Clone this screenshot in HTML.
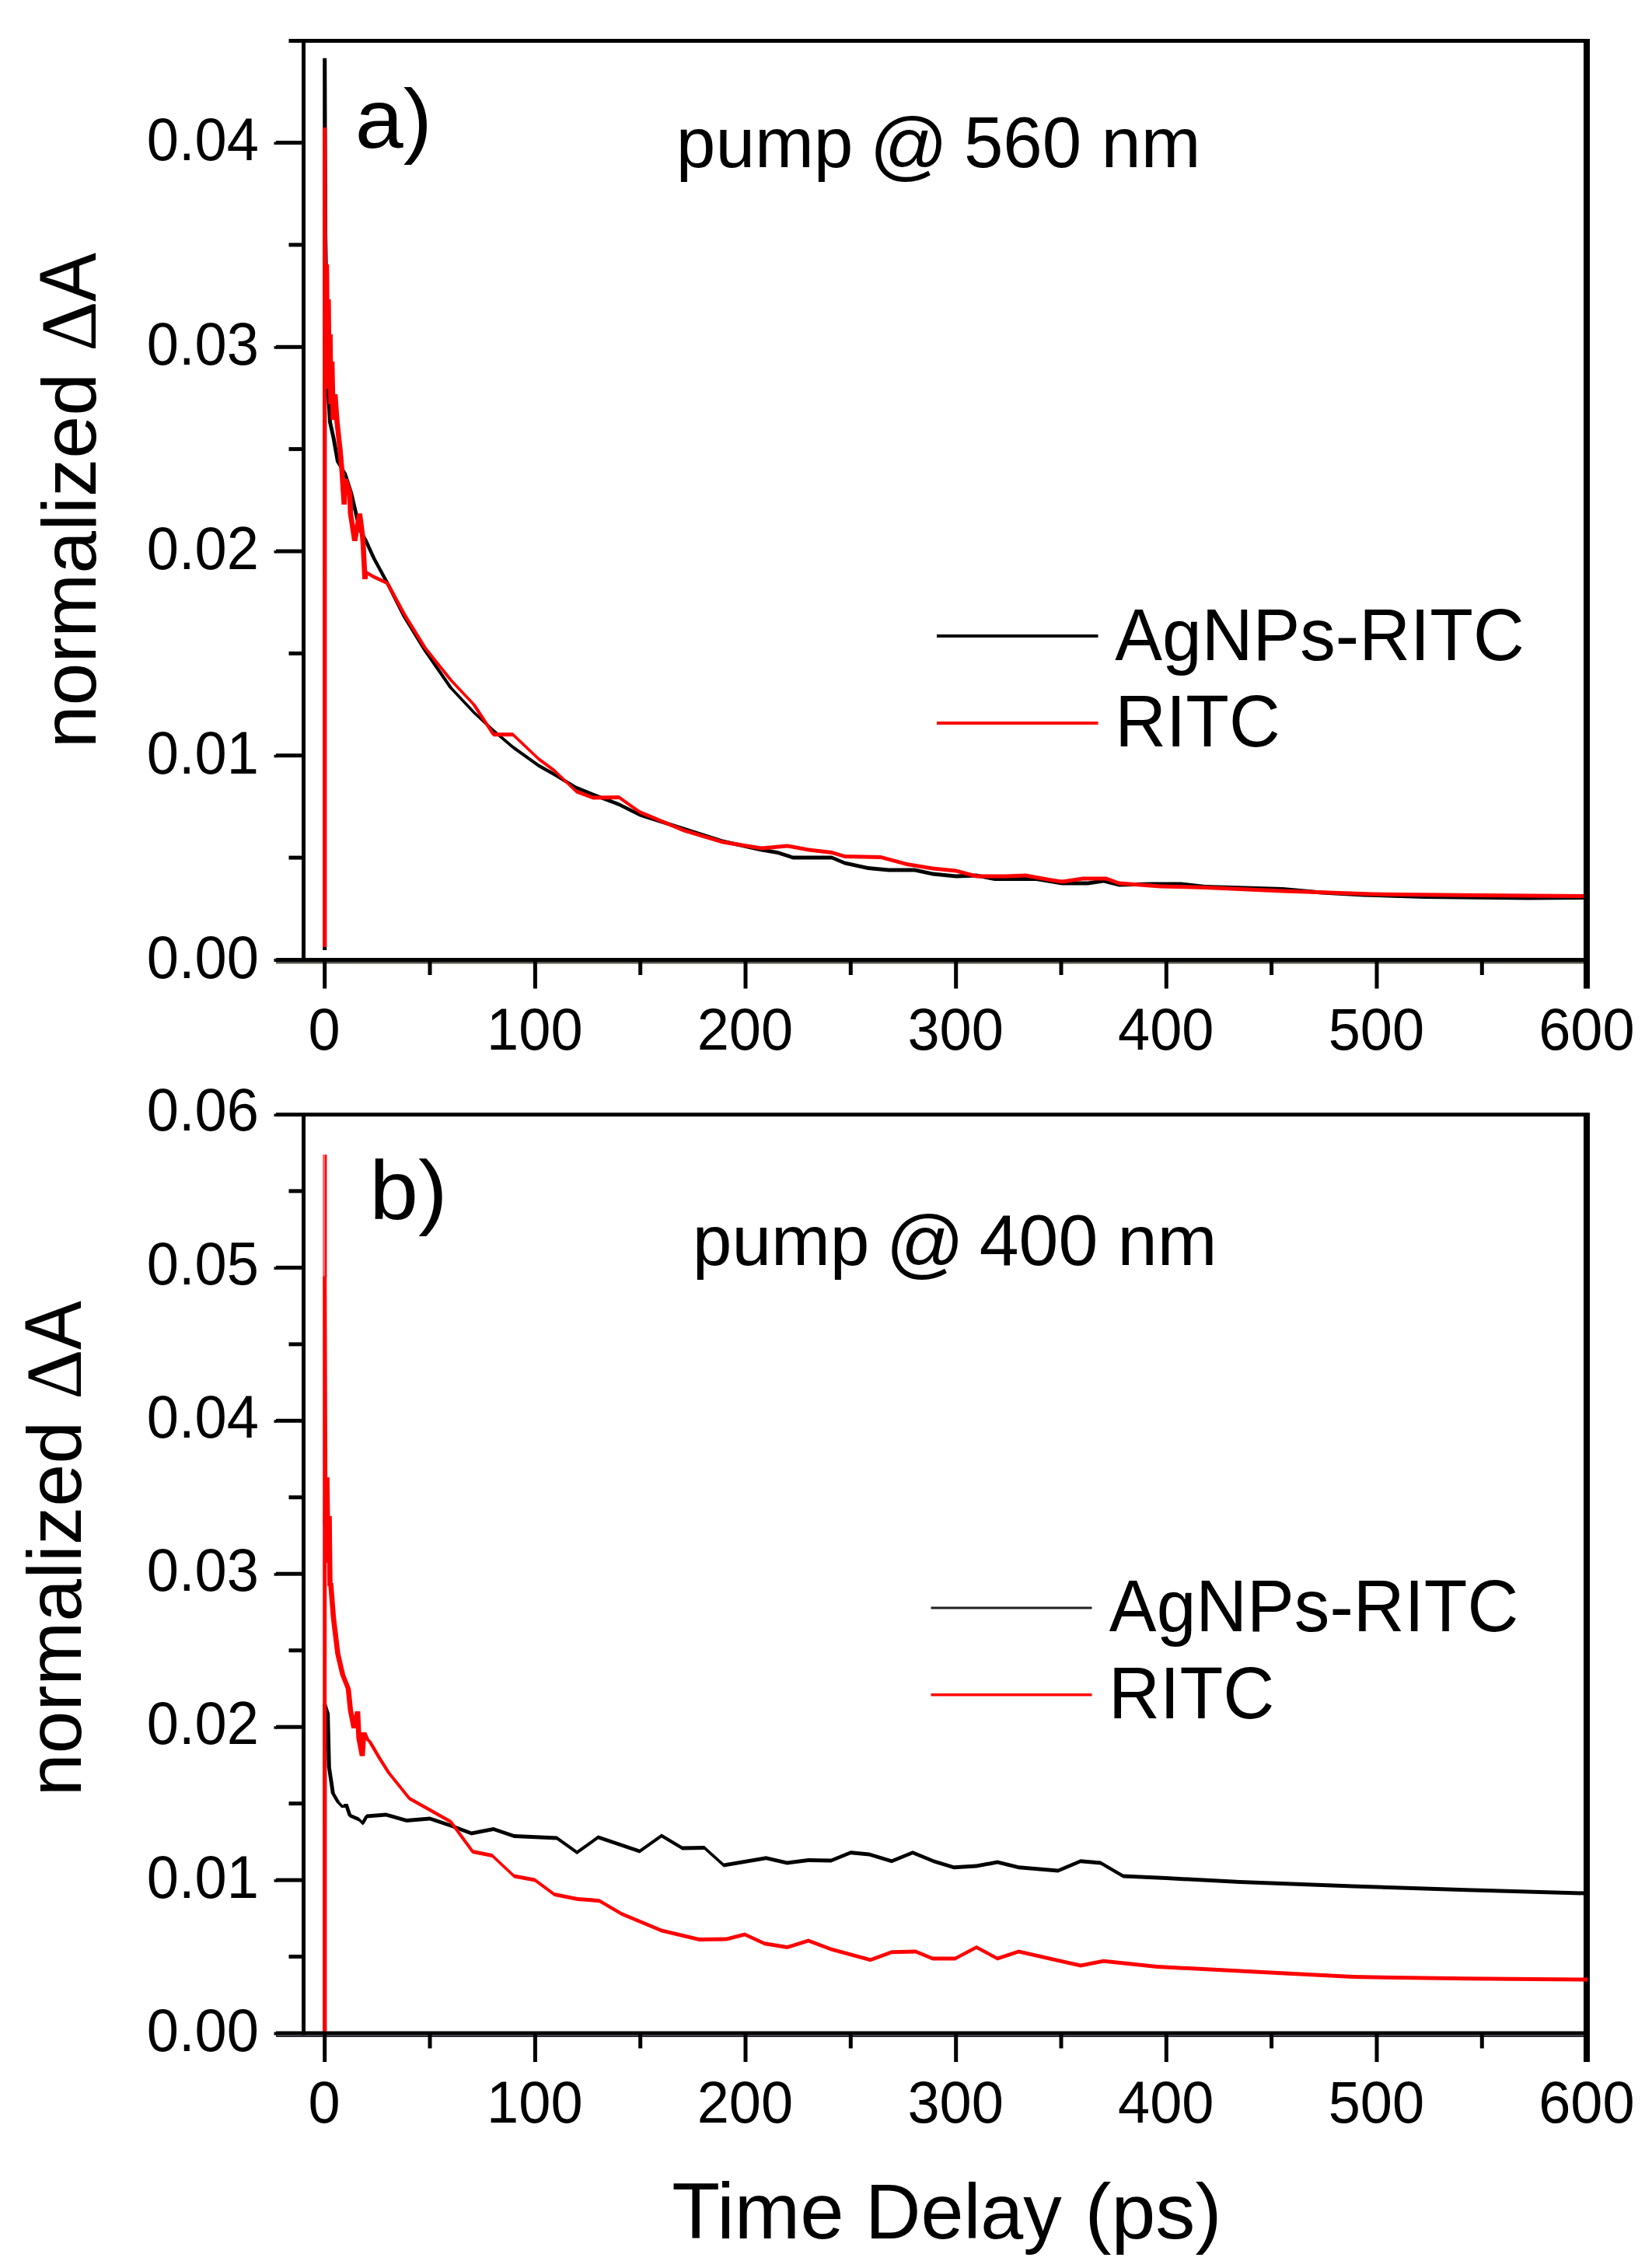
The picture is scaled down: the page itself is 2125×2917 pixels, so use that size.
<!DOCTYPE html>
<html lang="en"><head><meta charset="utf-8"><title>Transient absorption kinetics</title>
<style>
html,body{margin:0;padding:0;background:#fff;}
body{width:2125px;height:2917px;overflow:hidden;}
svg{display:block;}
text{font-family:'Liberation Sans', Arial, Helvetica, sans-serif;fill:#000;}
.tk{font-size:74px;}
.sf{font-family:'Liberation Serif','Times New Roman',serif;}
.lg{font-size:90px;}
.ax{font-size:97px;}
.pl{font-size:107px;}
</style></head><body>
<svg width="2125" height="2917" viewBox="0 0 2125 2917">
<rect x="0" y="0" width="2125" height="2917" fill="#ffffff"/>
<path d="M415.2 74.7L420.2 74.7L420.2 1222.0L415.2 1222.0ZM415.2 74.7L420.2 74.7L421.0 300.0L416.0 300.0ZM416.0 300.0L421.0 300.0L424.3 492.6L419.3 492.6ZM419.3 492.6L424.3 492.6L427.0 543.0L422.0 543.0ZM422.0 543.0L427.0 543.0L431.5 563.0L426.5 563.0ZM426.5 563.0L431.5 563.0L437.0 594.0L432.0 594.0ZM432.0 594.0L437.0 594.0L446.1 608.8L441.1 608.8ZM441.1 608.8L446.1 608.8L454.2 634.0L449.2 634.0ZM449.2 634.0L454.2 634.0L461.5 665.0L456.5 665.0ZM456.5 665.0L461.5 665.0L465.1 681.0L460.1 681.0ZM460.1 681.0L465.1 681.0L472.5 694.0L467.5 694.0ZM467.5 694.0L472.5 694.0L483.3 717.8L478.3 717.8ZM478.3 717.8L483.3 717.8L500.8 750.0L495.8 750.0ZM495.8 750.0L500.8 750.0L522.5 793.0L517.5 793.0ZM517.5 793.0L522.5 793.0L549.1 836.5L544.1 836.5ZM544.1 836.5L549.1 836.5L582.5 884.8L577.5 884.8ZM577.5 884.8L582.5 884.8L612.3 916.4L607.3 916.4ZM609.8 913.9L634.8 937.2L634.8 942.2L609.8 918.9ZM634.8 937.2L659.8 958.5L659.8 963.5L634.8 942.2ZM659.8 958.5L693.0 982.2L693.0 987.2L659.8 963.5ZM693.0 982.2L713.0 993.5L713.0 998.5L693.0 987.2ZM713.0 993.5L741.0 1010.5L741.0 1015.5L713.0 998.5ZM741.0 1010.5L763.0 1019.5L763.0 1024.5L741.0 1015.5ZM763.0 1019.5L796.0 1032.1L796.0 1037.1L763.0 1024.5ZM796.0 1032.1L823.0 1045.5L823.0 1050.5L796.0 1037.1ZM823.0 1045.5L879.5 1063.5L879.5 1068.5L823.0 1050.5ZM879.5 1063.5L929.5 1079.5L929.5 1084.5L879.5 1068.5ZM929.5 1079.5L979.4 1090.5L979.4 1095.5L929.5 1084.5ZM979.4 1090.5L1000.0 1094.0L1000.0 1099.0L979.4 1095.5ZM1000.0 1094.0L1020.0 1100.5L1020.0 1105.5L1000.0 1099.0ZM1020.0 1100.5L1070.0 1100.5L1070.0 1105.5L1020.0 1105.5ZM1070.0 1100.5L1086.6 1107.5L1086.6 1112.5L1070.0 1105.5ZM1086.6 1107.5L1116.5 1114.0L1116.5 1119.0L1086.6 1112.5ZM1116.5 1114.0L1143.0 1116.5L1143.0 1121.5L1116.5 1119.0ZM1143.0 1116.5L1176.5 1116.5L1176.5 1121.5L1143.0 1121.5ZM1176.5 1116.5L1199.8 1121.5L1199.8 1126.5L1176.5 1121.5ZM1199.8 1121.5L1229.7 1124.5L1229.7 1129.5L1199.8 1126.5ZM1229.7 1124.5L1256.0 1123.5L1256.0 1128.5L1229.7 1129.5ZM1256.0 1123.5L1279.7 1128.0L1279.7 1133.0L1256.0 1128.5ZM1279.7 1128.0L1333.0 1128.0L1333.0 1133.0L1279.7 1133.0ZM1333.0 1128.0L1366.0 1133.5L1366.0 1138.5L1333.0 1133.0ZM1366.0 1133.5L1399.5 1133.5L1399.5 1138.5L1366.0 1138.5ZM1399.5 1133.5L1419.5 1130.5L1419.5 1135.5L1399.5 1138.5ZM1419.5 1130.5L1439.5 1135.5L1439.5 1140.5L1419.5 1135.5ZM1439.5 1135.5L1482.8 1134.5L1482.8 1139.5L1439.5 1140.5ZM1482.8 1134.5L1519.4 1134.5L1519.4 1139.5L1482.8 1139.5ZM1519.4 1134.5L1550.0 1138.0L1550.0 1143.0L1519.4 1139.5ZM1550.0 1138.0L1650.0 1141.0L1650.0 1146.0L1550.0 1143.0ZM1650.0 1141.0L1700.0 1145.5L1700.0 1150.5L1650.0 1146.0ZM1700.0 1145.5L1754.0 1148.5L1754.0 1153.5L1700.0 1150.5ZM1754.0 1148.5L1833.0 1151.0L1833.0 1156.0L1754.0 1153.5ZM1833.0 1151.0L1966.0 1152.5L1966.0 1157.5L1833.0 1156.0ZM1966.0 1152.5L2037.0 1152.0L2037.0 1157.0L1966.0 1157.5ZM607.3 916.4L609.8 913.9L612.3 916.4L609.8 918.9Z" fill="#000" fill-rule="nonzero"/>
<path d="M415.2 164.0L420.2 164.0L420.2 1218.0L415.2 1218.0ZM415.2 164.0L420.2 164.0L421.1 420.0L416.1 420.0ZM417.5 340.0L422.5 340.0L421.1 420.0L416.1 420.0ZM417.5 340.0L422.5 340.0L423.5 470.0L418.5 470.0ZM419.8 385.0L424.8 385.0L423.5 470.0L418.5 470.0ZM419.8 385.0L424.8 385.0L425.8 500.0L420.8 500.0ZM422.1 430.0L427.1 430.0L425.8 500.0L420.8 500.0ZM422.1 430.0L427.1 430.0L428.1 520.0L423.1 520.0ZM424.5 465.0L429.5 465.0L428.1 520.0L423.1 520.0ZM424.5 465.0L429.5 465.0L431.0 540.0L426.0 540.0ZM428.4 507.0L433.4 507.0L431.0 540.0L426.0 540.0ZM428.4 507.0L433.4 507.0L436.1 543.0L431.1 543.0ZM431.1 543.0L436.1 543.0L440.1 580.0L435.1 580.0ZM435.1 580.0L440.1 580.0L442.5 607.0L437.5 607.0ZM437.5 607.0L442.5 607.0L445.2 649.0L440.2 649.0ZM442.0 616.0L447.0 616.0L445.2 649.0L440.2 649.0ZM442.0 616.0L447.0 616.0L452.5 634.0L447.5 634.0ZM447.5 634.0L452.5 634.0L453.3 660.0L448.3 660.0ZM448.3 660.0L453.3 660.0L458.8 696.0L453.8 696.0ZM460.1 660.6L465.1 660.6L458.8 696.0L453.8 696.0ZM460.1 660.6L465.1 660.6L468.8 688.7L463.8 688.7ZM463.8 688.7L468.8 688.7L469.7 701.0L464.7 701.0ZM464.7 701.0L469.7 701.0L471.9 745.0L466.9 745.0ZM468.3 736.0L473.3 736.0L471.9 745.0L466.9 745.0ZM470.8 733.5L480.0 739.1L480.0 744.1L470.8 738.5ZM480.0 739.1L498.3 747.5L498.3 752.5L480.0 744.1ZM495.8 750.0L500.8 750.0L522.5 790.0L517.5 790.0ZM517.5 790.0L522.5 790.0L549.1 833.0L544.1 833.0ZM544.1 833.0L549.1 833.0L582.5 874.8L577.5 874.8ZM577.5 874.8L582.5 874.8L612.3 906.4L607.3 906.4ZM607.3 906.4L612.3 906.4L637.3 944.7L632.3 944.7ZM634.8 942.2L659.8 942.2L659.8 947.2L634.8 947.2ZM659.8 942.2L693.0 973.8L693.0 978.8L659.8 947.2ZM693.0 973.8L713.0 988.5L713.0 993.5L693.0 978.8ZM713.0 988.5L741.3 1015.5L741.3 1020.5L713.0 993.5ZM741.3 1015.5L763.0 1023.5L763.0 1028.5L741.3 1020.5ZM763.0 1023.5L796.3 1023.1L796.3 1028.1L763.0 1028.5ZM796.3 1023.1L823.0 1042.1L823.0 1047.1L796.3 1028.1ZM823.0 1042.1L879.5 1065.5L879.5 1070.5L823.0 1047.1ZM879.5 1065.5L929.5 1080.5L929.5 1085.5L879.5 1070.5ZM929.5 1080.5L979.4 1088.5L979.4 1093.5L929.5 1085.5ZM979.4 1088.5L1013.0 1085.5L1013.0 1090.5L979.4 1093.5ZM1013.0 1085.5L1040.0 1090.5L1040.0 1095.5L1013.0 1090.5ZM1040.0 1090.5L1070.0 1094.0L1070.0 1099.0L1040.0 1095.5ZM1070.0 1094.0L1086.6 1099.0L1086.6 1104.0L1070.0 1099.0ZM1086.6 1099.0L1133.0 1100.0L1133.0 1105.0L1086.6 1104.0ZM1133.0 1100.0L1166.5 1109.0L1166.5 1114.0L1133.0 1105.0ZM1166.5 1109.0L1199.8 1114.5L1199.8 1119.5L1166.5 1114.0ZM1199.8 1114.5L1229.7 1117.5L1229.7 1122.5L1199.8 1119.5ZM1229.7 1117.5L1256.0 1124.5L1256.0 1129.5L1229.7 1122.5ZM1256.0 1124.5L1293.0 1124.5L1293.0 1129.5L1256.0 1129.5ZM1293.0 1124.5L1319.6 1123.5L1319.6 1128.5L1293.0 1129.5ZM1319.6 1123.5L1349.6 1129.0L1349.6 1134.0L1319.6 1128.5ZM1349.6 1129.0L1366.0 1131.5L1366.0 1136.5L1349.6 1134.0ZM1366.0 1131.5L1393.0 1127.5L1393.0 1132.5L1366.0 1136.5ZM1393.0 1127.5L1423.0 1127.5L1423.0 1132.5L1393.0 1132.5ZM1423.0 1127.5L1439.5 1133.5L1439.5 1138.5L1423.0 1132.5ZM1439.5 1133.5L1492.7 1137.5L1492.7 1142.5L1439.5 1138.5ZM1492.7 1137.5L1550.0 1139.0L1550.0 1144.0L1492.7 1142.5ZM1550.0 1139.0L1650.0 1143.5L1650.0 1148.5L1550.0 1144.0ZM1650.0 1143.5L1766.0 1147.5L1766.0 1152.5L1650.0 1148.5ZM1766.0 1147.5L1899.5 1149.0L1899.5 1154.0L1766.0 1152.5ZM1899.5 1149.0L2037.0 1150.0L2037.0 1155.0L1899.5 1154.0ZM468.3 736.0L470.8 733.5L473.3 736.0L470.8 738.5ZM495.8 750.0L498.3 747.5L500.8 750.0L498.3 752.5ZM632.3 944.7L634.8 942.2L637.3 944.7L634.8 947.2Z" fill="#ff0000" fill-rule="nonzero"/>
<path d="M416.7 340.0L423.3 340.0L421.9 420.0L415.3 420.0ZM416.7 340.0L423.3 340.0L424.3 470.0L417.7 470.0ZM419.0 385.0L425.6 385.0L424.3 470.0L417.7 470.0ZM419.0 385.0L425.6 385.0L426.6 500.0L420.0 500.0ZM421.3 430.0L427.9 430.0L426.6 500.0L420.0 500.0ZM421.3 430.0L427.9 430.0L428.9 520.0L422.3 520.0ZM423.7 465.0L430.3 465.0L428.9 520.0L422.3 520.0ZM423.7 465.0L430.3 465.0L431.8 540.0L425.2 540.0ZM427.6 507.0L434.2 507.0L431.8 540.0L425.2 540.0ZM427.6 507.0L434.2 507.0L436.9 543.0L430.3 543.0ZM430.3 543.0L436.9 543.0L440.9 580.0L434.3 580.0ZM434.3 580.0L440.9 580.0L443.3 607.0L436.7 607.0ZM436.7 607.0L443.3 607.0L446.0 649.0L439.4 649.0ZM441.2 616.0L447.8 616.0L446.0 649.0L439.4 649.0ZM441.2 616.0L447.8 616.0L453.3 634.0L446.7 634.0ZM446.7 634.0L453.3 634.0L454.1 660.0L447.5 660.0ZM447.5 660.0L454.1 660.0L459.6 696.0L453.0 696.0ZM459.3 660.6L465.9 660.6L459.6 696.0L453.0 696.0ZM459.3 660.6L465.9 660.6L469.6 688.7L463.0 688.7ZM463.0 688.7L469.6 688.7L470.5 701.0L463.9 701.0ZM463.9 701.0L470.5 701.0L472.7 745.0L466.1 745.0ZM467.5 736.0L474.1 736.0L472.7 745.0L466.1 745.0Z" fill="#ff0000" fill-rule="nonzero"/>
<rect x="388.0" y="50.0" width="5.0" height="1187.0" fill="#000"/>
<rect x="2037.0" y="50.0" width="8.0" height="1221.5" fill="#000"/>
<rect x="371.5" y="50.0" width="1673.5" height="5.0" fill="#000"/>
<rect x="355.0" y="1232.0" width="1690.0" height="5.0" fill="#000"/>
<rect x="352.5" y="1233.0" width="3.5" height="4.0" fill="#000"/>
<rect x="355.0" y="1237.0" width="1682.0" height="2.5" fill="#55554b"/>
<text class="tk" text-anchor="end" transform="translate(332.8,1257.5) scale(1,1.04)">0.00</text>
<rect x="371.5" y="1100.6" width="17.5" height="5.0" fill="#000"/>
<rect x="355.0" y="969.2" width="34.0" height="5.0" fill="#000"/>
<rect x="352.5" y="970.8" width="3.5" height="3.5" fill="#000"/>
<text class="tk" text-anchor="end" transform="translate(332.8,994.6) scale(1,1.04)">0.01</text>
<rect x="371.5" y="837.9" width="17.5" height="5.0" fill="#000"/>
<rect x="355.0" y="706.5" width="34.0" height="5.0" fill="#000"/>
<rect x="352.5" y="708.0" width="3.5" height="3.5" fill="#000"/>
<text class="tk" text-anchor="end" transform="translate(332.8,731.7) scale(1,1.04)">0.02</text>
<rect x="371.5" y="575.1" width="17.5" height="5.0" fill="#000"/>
<rect x="355.0" y="443.8" width="34.0" height="5.0" fill="#000"/>
<rect x="352.5" y="445.2" width="3.5" height="3.5" fill="#000"/>
<text class="tk" text-anchor="end" transform="translate(332.8,468.8) scale(1,1.04)">0.03</text>
<rect x="371.5" y="312.4" width="17.5" height="5.0" fill="#000"/>
<rect x="355.0" y="181.0" width="34.0" height="5.0" fill="#000"/>
<rect x="352.5" y="182.5" width="3.5" height="3.5" fill="#000"/>
<text class="tk" text-anchor="end" transform="translate(332.8,205.9) scale(1,1.04)">0.04</text>
<rect x="415.2" y="1236.5" width="5.0" height="35.0" fill="#000"/>
<text class="tk" text-anchor="middle" transform="translate(417.1,1350.0) scale(1,1.025)">0</text>
<rect x="550.5" y="1236.5" width="5.0" height="17.5" fill="#000"/>
<rect x="685.9" y="1236.5" width="5.0" height="35.0" fill="#000"/>
<text class="tk" text-anchor="middle" transform="translate(687.8,1350.0) scale(1,1.025)">100</text>
<rect x="821.2" y="1236.5" width="5.0" height="17.5" fill="#000"/>
<rect x="956.5" y="1236.5" width="5.0" height="35.0" fill="#000"/>
<text class="tk" text-anchor="middle" transform="translate(958.4,1350.0) scale(1,1.025)">200</text>
<rect x="1091.8" y="1236.5" width="5.0" height="17.5" fill="#000"/>
<rect x="1227.2" y="1236.5" width="5.0" height="35.0" fill="#000"/>
<text class="tk" text-anchor="middle" transform="translate(1229.1,1350.0) scale(1,1.025)">300</text>
<rect x="1362.5" y="1236.5" width="5.0" height="17.5" fill="#000"/>
<rect x="1497.8" y="1236.5" width="5.0" height="35.0" fill="#000"/>
<text class="tk" text-anchor="middle" transform="translate(1499.7,1350.0) scale(1,1.025)">400</text>
<rect x="1633.1" y="1236.5" width="5.0" height="17.5" fill="#000"/>
<rect x="1768.5" y="1236.5" width="5.0" height="35.0" fill="#000"/>
<text class="tk" text-anchor="middle" transform="translate(1770.4,1350.0) scale(1,1.025)">500</text>
<rect x="1903.8" y="1236.5" width="5.0" height="17.5" fill="#000"/>
<text class="tk" text-anchor="middle" transform="translate(2040.9,1350.0) scale(1,1.025)">600</text>
<path d="M415.2 2192.0L420.2 2192.0L420.2 2612.0L415.2 2612.0ZM415.2 2192.0L420.2 2192.0L424.1 2204.0L419.1 2204.0ZM419.1 2204.0L424.1 2204.0L425.8 2273.0L420.8 2273.0ZM420.8 2273.0L425.8 2273.0L430.8 2306.5L425.8 2306.5ZM425.8 2306.5L430.8 2306.5L437.5 2318.0L432.5 2318.0ZM432.5 2318.0L437.5 2318.0L444.1 2325.0L439.1 2325.0ZM442.5 2320.0L447.5 2320.0L444.1 2325.0L439.1 2325.0ZM442.5 2320.0L447.5 2320.0L452.5 2335.0L447.5 2335.0ZM450.0 2332.5L461.6 2337.5L461.6 2342.5L450.0 2337.5ZM461.6 2337.5L466.6 2342.5L466.6 2347.5L461.6 2342.5ZM469.1 2336.0L474.1 2336.0L469.1 2345.0L464.1 2345.0ZM471.6 2333.5L496.5 2331.5L496.5 2336.5L471.6 2338.5ZM496.5 2331.5L523.0 2339.0L523.0 2344.0L496.5 2336.5ZM523.0 2339.0L553.0 2336.5L553.0 2341.5L523.0 2344.0ZM553.0 2336.5L579.8 2345.5L579.8 2350.5L553.0 2341.5ZM579.8 2345.5L606.4 2355.5L606.4 2360.5L579.8 2350.5ZM606.4 2355.5L634.7 2350.0L634.7 2355.0L606.4 2360.5ZM634.7 2350.0L661.3 2359.0L661.3 2364.0L634.7 2355.0ZM661.3 2359.0L716.3 2361.5L716.3 2366.5L661.3 2364.0ZM716.3 2361.5L742.2 2380.0L742.2 2385.0L716.3 2366.5ZM742.2 2380.0L769.5 2360.5L769.5 2365.5L742.2 2385.0ZM769.5 2360.5L822.8 2378.5L822.8 2383.5L769.5 2365.5ZM822.8 2378.5L851.0 2358.5L851.0 2363.5L822.8 2383.5ZM851.0 2358.5L877.7 2374.5L877.7 2379.5L851.0 2363.5ZM877.7 2374.5L906.0 2374.0L906.0 2379.0L877.7 2379.5ZM906.0 2374.0L931.0 2396.5L931.0 2401.5L906.0 2379.0ZM931.0 2396.5L954.5 2392.5L954.5 2397.5L931.0 2401.5ZM954.5 2392.5L985.4 2387.2L985.4 2392.2L954.5 2397.5ZM985.4 2387.2L1012.6 2393.5L1012.6 2398.5L985.4 2392.2ZM1012.6 2393.5L1039.8 2390.1L1039.8 2395.1L1012.6 2398.5ZM1039.8 2390.1L1069.0 2390.5L1069.0 2395.5L1039.8 2395.1ZM1069.0 2390.5L1094.3 2380.3L1094.3 2385.3L1069.0 2395.5ZM1094.3 2380.3L1118.0 2382.5L1118.0 2387.5L1094.3 2385.3ZM1118.0 2382.5L1147.0 2391.2L1147.0 2396.2L1118.0 2387.5ZM1147.0 2391.2L1174.0 2380.3L1174.0 2385.3L1147.0 2396.2ZM1174.0 2380.3L1201.5 2391.5L1201.5 2396.5L1174.0 2385.3ZM1201.5 2391.5L1227.0 2399.2L1227.0 2404.2L1201.5 2396.5ZM1227.0 2399.2L1256.0 2397.5L1256.0 2402.5L1227.0 2404.2ZM1256.0 2397.5L1283.0 2392.5L1283.0 2397.5L1256.0 2402.5ZM1283.0 2392.5L1310.4 2399.2L1310.4 2404.2L1283.0 2397.5ZM1310.4 2399.2L1361.0 2403.5L1361.0 2408.5L1310.4 2404.2ZM1361.0 2403.5L1390.0 2391.2L1390.0 2396.2L1361.0 2408.5ZM1390.0 2391.2L1415.7 2393.5L1415.7 2398.5L1390.0 2396.2ZM1415.7 2393.5L1444.8 2410.5L1444.8 2415.5L1415.7 2398.5ZM1444.8 2410.5L1500.0 2413.0L1500.0 2418.0L1444.8 2415.5ZM1500.0 2413.0L1595.0 2418.1L1595.0 2423.1L1500.0 2418.0ZM1595.0 2418.1L1740.5 2423.5L1740.5 2428.5L1595.0 2423.1ZM1740.5 2423.5L1886.0 2428.3L1886.0 2433.3L1740.5 2428.5ZM1886.0 2428.3L2037.0 2432.5L2037.0 2437.5L1886.0 2433.3ZM447.5 2335.0L450.0 2332.5L452.5 2335.0L450.0 2337.5ZM464.1 2345.0L466.6 2342.5L469.1 2345.0L466.6 2347.5ZM469.1 2336.0L471.6 2333.5L474.1 2336.0L471.6 2338.5Z" fill="#000" fill-rule="nonzero"/>
<path d="M415.2 1640.0L420.2 1640.0L420.2 2614.0L415.2 2614.0ZM415.2 1640.0L420.2 1640.0L421.3 1960.0L416.3 1960.0ZM418.0 1900.0L423.0 1900.0L421.3 1960.0L416.3 1960.0ZM418.0 1900.0L423.0 1900.0L424.5 2010.0L419.5 2010.0ZM421.0 1950.0L426.0 1950.0L424.5 2010.0L419.5 2010.0ZM421.0 1950.0L426.0 1950.0L427.0 2040.0L422.0 2040.0ZM422.9 2036.0L427.9 2036.0L427.0 2040.0L422.0 2040.0ZM422.9 2036.0L427.9 2036.0L431.5 2081.6L426.5 2081.6ZM426.5 2081.6L431.5 2081.6L437.0 2127.0L432.0 2127.0ZM432.0 2127.0L437.0 2127.0L443.3 2154.0L438.3 2154.0ZM438.3 2154.0L443.3 2154.0L450.5 2172.0L445.5 2172.0ZM445.5 2172.0L450.5 2172.0L453.3 2199.6L448.3 2199.6ZM448.3 2199.6L453.3 2199.6L457.9 2223.0L452.9 2223.0ZM457.5 2201.0L462.5 2201.0L457.9 2223.0L452.9 2223.0ZM457.5 2201.0L462.5 2201.0L464.2 2236.0L459.2 2236.0ZM459.2 2236.0L464.2 2236.0L468.5 2258.6L463.5 2258.6ZM465.5 2228.0L470.5 2228.0L468.5 2258.6L463.5 2258.6ZM465.5 2228.0L470.5 2228.0L474.1 2236.6L469.1 2236.6ZM471.6 2234.1L475.4 2237.1L475.4 2242.1L471.6 2239.1ZM472.9 2239.6L477.9 2239.6L490.5 2261.0L485.5 2261.0ZM485.5 2261.0L490.5 2261.0L502.5 2280.0L497.5 2280.0ZM497.5 2280.0L502.5 2280.0L529.0 2313.0L524.0 2313.0ZM526.5 2310.5L579.8 2340.5L579.8 2345.5L526.5 2315.5ZM577.3 2343.0L582.3 2343.0L610.5 2381.5L605.5 2381.5ZM608.0 2379.0L633.0 2383.9L633.0 2388.9L608.0 2384.0ZM633.0 2383.9L661.3 2410.5L661.3 2415.5L633.0 2388.9ZM661.3 2410.5L688.0 2415.5L688.0 2420.5L661.3 2415.5ZM688.0 2415.5L713.0 2433.9L713.0 2438.9L688.0 2420.5ZM713.0 2433.9L743.0 2439.9L743.0 2444.9L713.0 2438.9ZM743.0 2439.9L771.0 2442.2L771.0 2447.2L743.0 2444.9ZM771.0 2442.2L799.5 2458.9L799.5 2463.9L771.0 2447.2ZM799.5 2458.9L851.0 2480.5L851.0 2485.5L799.5 2463.9ZM851.0 2480.5L899.4 2492.1L899.4 2497.1L851.0 2485.5ZM899.4 2492.1L934.5 2491.5L934.5 2496.5L899.4 2497.1ZM934.5 2491.5L958.0 2485.5L958.0 2490.5L934.5 2496.5ZM958.0 2485.5L983.5 2497.3L983.5 2502.3L958.0 2490.5ZM983.5 2497.3L1012.6 2502.0L1012.6 2507.0L983.5 2502.3ZM1012.6 2502.0L1039.8 2493.5L1039.8 2498.5L1012.6 2507.0ZM1039.8 2493.5L1069.0 2504.5L1069.0 2509.5L1039.8 2498.5ZM1069.0 2504.5L1119.7 2518.3L1119.7 2523.3L1069.0 2509.5ZM1119.7 2518.3L1147.0 2508.2L1147.0 2513.2L1119.7 2523.3ZM1147.0 2508.2L1177.8 2507.5L1177.8 2512.5L1147.0 2513.2ZM1177.8 2507.5L1199.6 2516.5L1199.6 2521.5L1177.8 2512.5ZM1199.6 2516.5L1228.7 2516.5L1228.7 2521.5L1199.6 2521.5ZM1228.7 2516.5L1256.0 2502.0L1256.0 2507.0L1228.7 2521.5ZM1256.0 2502.0L1283.0 2516.5L1283.0 2521.5L1256.0 2507.0ZM1283.0 2516.5L1310.4 2507.5L1310.4 2512.5L1283.0 2521.5ZM1310.4 2507.5L1361.0 2519.0L1361.0 2524.0L1310.4 2512.5ZM1361.0 2519.0L1390.0 2525.5L1390.0 2530.5L1361.0 2524.0ZM1390.0 2525.5L1419.4 2519.8L1419.4 2524.8L1390.0 2530.5ZM1419.4 2519.8L1488.4 2527.0L1488.4 2532.0L1419.4 2524.8ZM1488.4 2527.0L1595.0 2532.5L1595.0 2537.5L1488.4 2532.0ZM1595.0 2532.5L1740.5 2540.1L1740.5 2545.1L1595.0 2537.5ZM1740.5 2540.1L1886.0 2542.3L1886.0 2547.3L1740.5 2545.1ZM1886.0 2542.3L2042.0 2543.5L2042.0 2548.5L1886.0 2547.3ZM469.1 2236.6L471.6 2234.1L474.1 2236.6L471.6 2239.1ZM472.9 2239.6L475.4 2237.1L477.9 2239.6L475.4 2242.1ZM524.0 2313.0L526.5 2310.5L529.0 2313.0L526.5 2315.5ZM577.3 2343.0L579.8 2340.5L582.3 2343.0L579.8 2345.5ZM605.5 2381.5L608.0 2379.0L610.5 2381.5L608.0 2384.0Z" fill="#ff0000" fill-rule="nonzero"/>
<path d="M417.2 1900.0L423.8 1900.0L422.1 1960.0L415.5 1960.0ZM417.2 1900.0L423.8 1900.0L425.3 2010.0L418.7 2010.0ZM420.2 1950.0L426.8 1950.0L425.3 2010.0L418.7 2010.0ZM420.2 1950.0L426.8 1950.0L427.8 2040.0L421.2 2040.0ZM422.1 2036.0L428.7 2036.0L427.8 2040.0L421.2 2040.0ZM422.1 2036.0L428.7 2036.0L432.3 2081.6L425.7 2081.6ZM425.7 2081.6L432.3 2081.6L437.8 2127.0L431.2 2127.0ZM431.2 2127.0L437.8 2127.0L444.1 2154.0L437.5 2154.0ZM437.5 2154.0L444.1 2154.0L451.3 2172.0L444.7 2172.0ZM444.7 2172.0L451.3 2172.0L454.1 2199.6L447.5 2199.6ZM447.5 2199.6L454.1 2199.6L458.7 2223.0L452.1 2223.0ZM456.7 2201.0L463.3 2201.0L458.7 2223.0L452.1 2223.0ZM456.7 2201.0L463.3 2201.0L465.0 2236.0L458.4 2236.0ZM458.4 2236.0L465.0 2236.0L469.3 2258.6L462.7 2258.6ZM464.7 2228.0L471.3 2228.0L469.3 2258.6L462.7 2258.6ZM464.7 2228.0L471.3 2228.0L474.9 2236.6L468.3 2236.6Z" fill="#ff0000" fill-rule="nonzero"/>
<rect x="388.0" y="1431.0" width="5.0" height="1186.5" fill="#000"/>
<rect x="2037.0" y="1431.0" width="8.0" height="1221.0" fill="#000"/>
<rect x="371.5" y="1431.0" width="1673.5" height="5.0" fill="#000"/>
<rect x="355.0" y="2612.5" width="1690.0" height="5.0" fill="#000"/>
<rect x="352.5" y="2613.5" width="3.5" height="4.0" fill="#000"/>
<rect x="355.0" y="2617.5" width="1682.0" height="2.5" fill="#2b2b33"/>
<text class="tk" text-anchor="end" transform="translate(332.8,2638.0) scale(1,1.04)">0.00</text>
<rect x="371.5" y="2514.0" width="17.5" height="5.0" fill="#000"/>
<rect x="355.0" y="2415.6" width="34.0" height="5.0" fill="#000"/>
<rect x="352.5" y="2417.1" width="3.5" height="3.5" fill="#000"/>
<text class="tk" text-anchor="end" transform="translate(332.8,2440.7) scale(1,1.04)">0.01</text>
<rect x="371.5" y="2317.1" width="17.5" height="5.0" fill="#000"/>
<rect x="355.0" y="2218.7" width="34.0" height="5.0" fill="#000"/>
<rect x="352.5" y="2220.2" width="3.5" height="3.5" fill="#000"/>
<text class="tk" text-anchor="end" transform="translate(332.8,2243.4) scale(1,1.04)">0.02</text>
<rect x="371.5" y="2120.2" width="17.5" height="5.0" fill="#000"/>
<rect x="355.0" y="2021.7" width="34.0" height="5.0" fill="#000"/>
<rect x="352.5" y="2023.2" width="3.5" height="3.5" fill="#000"/>
<text class="tk" text-anchor="end" transform="translate(332.8,2046.2) scale(1,1.04)">0.03</text>
<rect x="371.5" y="1923.3" width="17.5" height="5.0" fill="#000"/>
<rect x="355.0" y="1824.8" width="34.0" height="5.0" fill="#000"/>
<rect x="352.5" y="1826.3" width="3.5" height="3.5" fill="#000"/>
<text class="tk" text-anchor="end" transform="translate(332.8,1848.9) scale(1,1.04)">0.04</text>
<rect x="371.5" y="1726.4" width="17.5" height="5.0" fill="#000"/>
<rect x="355.0" y="1627.9" width="34.0" height="5.0" fill="#000"/>
<rect x="352.5" y="1629.4" width="3.5" height="3.5" fill="#000"/>
<text class="tk" text-anchor="end" transform="translate(332.8,1651.6) scale(1,1.04)">0.05</text>
<rect x="371.5" y="1529.4" width="17.5" height="5.0" fill="#000"/>
<rect x="355.0" y="1431.0" width="34.0" height="5.0" fill="#000"/>
<rect x="352.5" y="1432.5" width="3.5" height="3.5" fill="#000"/>
<text class="tk" text-anchor="end" transform="translate(332.8,1454.3) scale(1,1.04)">0.06</text>
<rect x="415.2" y="2617.0" width="5.0" height="35.0" fill="#000"/>
<text class="tk" text-anchor="middle" transform="translate(417.1,2730.3) scale(1,1.025)">0</text>
<rect x="550.5" y="2617.0" width="5.0" height="17.5" fill="#000"/>
<rect x="685.9" y="2617.0" width="5.0" height="35.0" fill="#000"/>
<text class="tk" text-anchor="middle" transform="translate(687.8,2730.3) scale(1,1.025)">100</text>
<rect x="821.2" y="2617.0" width="5.0" height="17.5" fill="#000"/>
<rect x="956.5" y="2617.0" width="5.0" height="35.0" fill="#000"/>
<text class="tk" text-anchor="middle" transform="translate(958.4,2730.3) scale(1,1.025)">200</text>
<rect x="1091.8" y="2617.0" width="5.0" height="17.5" fill="#000"/>
<rect x="1227.2" y="2617.0" width="5.0" height="35.0" fill="#000"/>
<text class="tk" text-anchor="middle" transform="translate(1229.1,2730.3) scale(1,1.025)">300</text>
<rect x="1362.5" y="2617.0" width="5.0" height="17.5" fill="#000"/>
<rect x="1497.8" y="2617.0" width="5.0" height="35.0" fill="#000"/>
<text class="tk" text-anchor="middle" transform="translate(1499.7,2730.3) scale(1,1.025)">400</text>
<rect x="1633.1" y="2617.0" width="5.0" height="17.5" fill="#000"/>
<rect x="1768.5" y="2617.0" width="5.0" height="35.0" fill="#000"/>
<text class="tk" text-anchor="middle" transform="translate(1770.4,2730.3) scale(1,1.025)">500</text>
<rect x="1903.8" y="2617.0" width="5.0" height="17.5" fill="#000"/>
<text class="tk" text-anchor="middle" transform="translate(2040.9,2730.3) scale(1,1.025)">600</text>
<rect x="2036.0" y="2543.5" width="6.2" height="5.0" fill="#ff0000"/>
<rect x="417.6" y="1485.0" width="2.8" height="157.0" fill="#ff0000"/>
<rect x="415.2" y="1485.0" width="2.4" height="157.0" fill="#ff5a5a"/>
<text font-size="106.9" transform="translate(456.66,190.30) scale(1.0427,1.0100)">a)</text>
<text font-size="106.9" transform="translate(475.16,1568.00) scale(1.0563,1.0100)">b)</text>
<text><tspan x="869.78" y="215.30" font-size="90.40" textLength="227.70" lengthAdjust="spacingAndGlyphs">pump</tspan> <tspan x="1118.59" y="220.30" font-size="98.26" textLength="100.98" lengthAdjust="spacingAndGlyphs">@</tspan> <tspan x="1239.97" y="215.30" font-size="93.11" textLength="151.22" lengthAdjust="spacingAndGlyphs">560</tspan> <tspan x="1416.59" y="215.30" font-size="90.40" textLength="127.85" lengthAdjust="spacingAndGlyphs">nm</tspan></text>
<text><tspan x="890.78" y="1627.30" font-size="90.40" textLength="227.70" lengthAdjust="spacingAndGlyphs">pump</tspan> <tspan x="1139.59" y="1632.30" font-size="98.26" textLength="100.98" lengthAdjust="spacingAndGlyphs">@</tspan> <tspan x="1259.74" y="1627.30" font-size="93.11" textLength="152.48" lengthAdjust="spacingAndGlyphs">400</tspan> <tspan x="1437.59" y="1627.30" font-size="90.40" textLength="127.85" lengthAdjust="spacingAndGlyphs">nm</tspan></text>
<rect x="1205.0" y="816.0" width="207.5" height="4.0" fill="#000"/>
<rect x="1205.0" y="928.0" width="207.5" height="4.0" fill="#ff0000"/>
<text font-size="90.4" transform="translate(1434.27,848.50) scale(1.0079,1.0400)">AgNPs-RITC</text>
<text font-size="90.4" transform="translate(1434.29,960.30) scale(1.0074,1.0400)">RITC</text>
<rect x="1197.5" y="2066.5" width="207.0" height="3.0" fill="#222"/>
<rect x="1197.5" y="2178.0" width="207.0" height="3.5" fill="#ff0000"/>
<text font-size="90.4" transform="translate(1426.87,2098.20) scale(1.0079,1.0400)">AgNPs-RITC</text>
<text font-size="90.4" transform="translate(1425.96,2209.60) scale(1.0114,1.0400)">RITC</text>
<text transform="translate(123.30,0) rotate(-90)"><tspan x="-962.25" y="0.00" font-size="97.71" textLength="482.24" lengthAdjust="spacingAndGlyphs">normalized</tspan> <tspan class="sf" x="-451.75" y="0.00" font-size="102.65" textLength="64.37" lengthAdjust="spacingAndGlyphs">Δ</tspan><tspan x="-388.04" y="0.00" font-size="102.94" textLength="62.82" lengthAdjust="spacingAndGlyphs">A</tspan></text>
<text transform="translate(104.30,0) rotate(-90)"><tspan x="-2310.25" y="0.00" font-size="97.71" textLength="482.24" lengthAdjust="spacingAndGlyphs">normalized</tspan> <tspan class="sf" x="-1799.75" y="0.00" font-size="102.65" textLength="64.37" lengthAdjust="spacingAndGlyphs">Δ</tspan><tspan x="-1736.04" y="0.00" font-size="102.94" textLength="62.82" lengthAdjust="spacingAndGlyphs">A</tspan></text>
<text><tspan x="864.22" y="2879.00" font-size="101.66" textLength="221.29" lengthAdjust="spacingAndGlyphs">Time</tspan> <tspan x="1113.05" y="2879.00" font-size="100.67" textLength="252.72" lengthAdjust="spacingAndGlyphs">Delay</tspan> <tspan x="1395.51" y="2879.00" font-size="99.69" textLength="175.99" lengthAdjust="spacingAndGlyphs">(ps)</tspan></text>
</svg>
</body></html>
